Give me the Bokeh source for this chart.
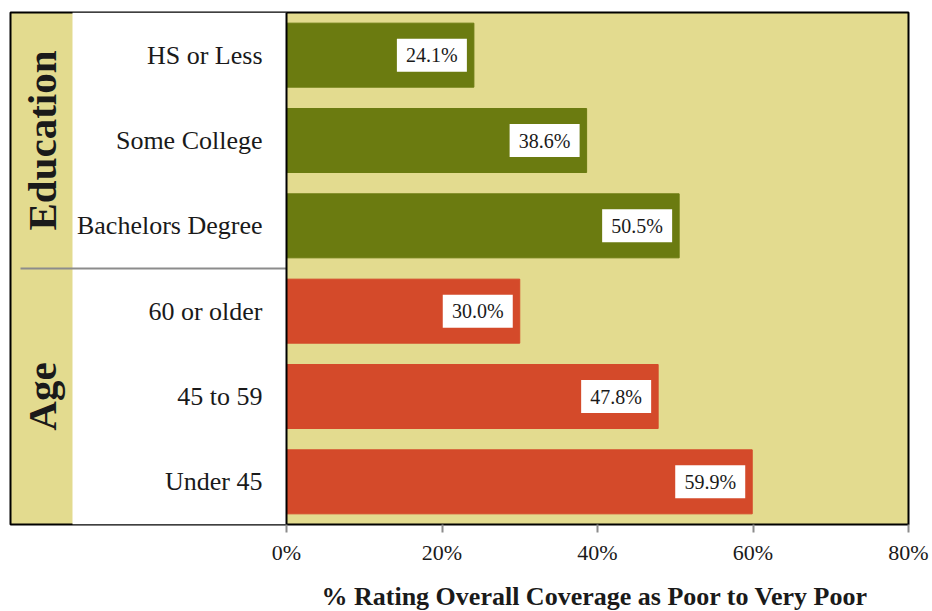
import math
from bokeh.plotting import figure
from bokeh.models import Range1d, FixedTicker, BoxAnnotation, ColumnDataSource, Span, Title
from bokeh.core.properties import value
from bokeh.embed import file_html
from bokeh.resources import INLINE

# ---- data ----
groups = ["Education", "Education", "Education", "Age", "Age", "Age"]
categories = ["HS or Less", "Some College", "Bachelors Degree", "60 or older", "45 to 59", "Under 45"]
values = [24.1, 38.6, 50.5, 30.0, 47.8, 59.9]
group_names = ["Education", "Age"]
group_colors = {"Education": "#6B7B10", "Age": "#D44A2A"}
x_ticks = [0, 20, 40, 60, 80]
tick_labels = ["0%", "20%", "40%", "60%", "80%"]
axis_title = "% Rating Overall Coverage as Poor to Very Poor"

FONT = "'Liberation Serif', serif"
BG = "#E3DB8F"
XMIN, XMAX = -35.5, 80
FRAME_W = 898
PX_PER_UNIT = FRAME_W / (XMAX - XMIN)
LABEL_SHIFT_PX = 42  # value-label box centre, left of bar end

n = len(categories)
ys = [n - i - 0.5 for i in range(n)]

src = ColumnDataSource(dict(
    y=ys,
    v=values,
    box_x=[v - LABEL_SHIFT_PX / PX_PER_UNIT for v in values],
    cat=categories,
    lab=[f"{v:.1f}%" for v in values],
    color=[group_colors[g] for g in groups],
))

p = figure(width=932, height=611, x_range=Range1d(XMIN, XMAX), y_range=Range1d(0, n),
           output_backend="svg", toolbar_location=None,
           min_border_left=10, min_border_right=24, min_border_top=12, min_border_bottom=87)

p.background_fill_color = BG
p.border_fill_color = "white"
p.outline_line_color = "black"
p.outline_line_width = 2
p.xgrid.visible = False
p.ygrid.visible = False
p.yaxis.visible = False

# left white panel (leaving a tan strip for group names)
strip_w = 62 / PX_PER_UNIT
p.add_layout(BoxAnnotation(left=XMIN + strip_w, right=0, fill_color="white", fill_alpha=1,
                           line_color=None, level="underlay"))

# bars
p.hbar(y="y", left=0, right="v", height=0.75, color="color", source=src)

# value labels in white boxes
p.rect(x="box_x", y="y", width=70, height=33, width_units="screen", height_units="screen",
       fill_color="white", line_color=None, source=src)
p.text(x="box_x", y="y", text="lab", source=src, text_align="center",
       text_baseline="middle", text_font=value(FONT), text_font_size="20px",
       text_color="#1a1a1a")

# category labels
p.text(x=0, y="y", text="cat", source=src, x_offset=-24, text_align="right",
       text_baseline="middle", text_font=value(FONT), text_font_size="26px",
       text_color="#1a1a1a")

# group labels
gy = []
for g in group_names:
    yy = [y for y, gg in zip(ys, groups) if gg == g]
    gy.append(sum(yy) / len(yy))
p.text(x=[XMIN] * len(group_names), y=gy, text=group_names, x_offset=31, angle=math.pi / 2,
       text_align="center", text_baseline="middle", text_font=value(FONT),
       text_font_size="41px", text_font_style="bold", text_color="#1a1a1a")

# divider between groups
n_age = groups.count("Age")
p.segment(x0=[XMIN + 10 / PX_PER_UNIT], x1=[0], y0=[n_age], y1=[n_age],
          line_color="#8c8c8c", line_width=2)

p.add_layout(Span(location=0, dimension="height", line_color="black", line_width=2))

# x axis
ax = p.xaxis[0]
ax.ticker = FixedTicker(ticks=x_ticks)
ax.major_label_overrides = {t: l for t, l in zip(x_ticks, tick_labels)}
ax.axis_line_color = None
ax.major_tick_line_color = "#8c8c8c"
ax.major_tick_line_width = 2
ax.major_tick_in = 0
ax.major_tick_out = 8
ax.minor_tick_line_color = None
ax.major_label_standoff = 7
ax.major_label_text_font = FONT
ax.major_label_text_font_size = "22px"
ax.major_label_text_color = "#1a1a1a"
# small blank spacer under the tick labels
ax.axis_label = "\u00a0"
ax.axis_label_text_font_size = "8px"
ax.axis_label_standoff = 0

# axis title centred under the value scale (placed as a bottom title)
p.add_layout(Title(text=axis_title, align="left", offset=311, standoff=0,
                   text_font=FONT, text_font_size="26px", text_font_style="bold",
                   text_color="#1a1a1a"), "below")

open("out.html", "w").write(file_html(p, INLINE))
